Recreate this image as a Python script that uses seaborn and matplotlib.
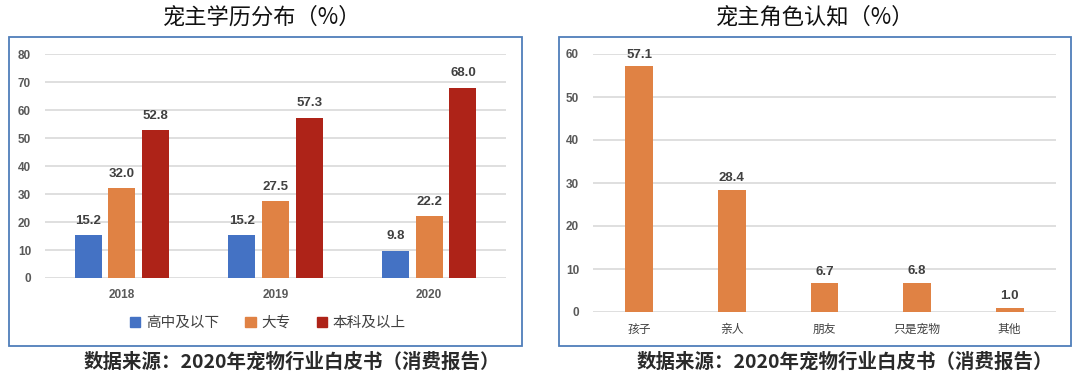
import matplotlib
matplotlib.use('Agg')
import matplotlib.pyplot as plt
from matplotlib.patches import Rectangle
import pandas as pd
import seaborn as sns

# data
years = ['2018', '2019', '2020']
edu_levels = ['高中及以下', '大专', '本科及以上']
high_school = [15.2, 15.2, 9.8]
college = [32.0, 27.5, 22.2]
bachelor = [52.8, 57.3, 68.0]

roles = ['孩子', '亲人', '朋友', '只是宠物', '其他']
role_share = [57.1, 28.4, 6.7, 6.8, 1.0]

source = '数据来源：2020年宠物行业白皮书（消费报告）'

sns.set_theme(style='white')
plt.rcParams['font.family'] = ['Noto Sans CJK SC', 'DejaVu Sans']

W, H = 1080, 382
fig = plt.figure(figsize=(W / 100, H / 100), dpi=100)


def box(x0, y0, x1, y1):
    # pixel coords (top-left origin) -> figure fraction rect
    return [x0 / W, 1 - y1 / H, (x1 - x0) / W, (y1 - y0) / H]


blue, orange, red = '#4472C4', '#E08244', '#AE2318'
grid_c = '#D9D9D9'
txt_c = '#404040'
num_font = {'family': 'Liberation Sans', 'weight': 'bold'}

# outer frames
for x0, y0, x1, y1 in [(9, 37, 522, 346), (559, 37, 1071, 346)]:
    r = box(x0, y0, x1, y1)
    fig.patches.append(Rectangle((r[0], r[1]), r[2], r[3], transform=fig.transFigure,
                                 fill=False, edgecolor='#4F7EBA', linewidth=1.3))

edu = pd.DataFrame({
    'year': years * 3,
    'level': [edu_levels[0]] * 3 + [edu_levels[1]] * 3 + [edu_levels[2]] * 3,
    'value': high_school + college + bachelor,
})

ax1 = fig.add_axes(box(45, 54, 506, 278))
sns.barplot(data=edu, x='year', y='value', hue='level', hue_order=edu_levels,
            palette=[blue, orange, red], width=0.66, gap=0.2, saturation=1,
            linewidth=0, ax=ax1, legend=False)
ax1.set_ylim(0, 80)
ax1.set_xlim(-0.5, 2.5)
ax1.set_yticks(range(0, 81, 10))
for c in ax1.containers:
    ax1.bar_label(c, fmt='%.1f', padding=6, color=txt_c, fontsize=9.5, **num_font)

ax2 = fig.add_axes(box(593, 54, 1056, 312))
sns.barplot(x=roles, y=role_share, color=orange, width=0.3, saturation=1,
            linewidth=0, ax=ax2)
ax2.set_ylim(0, 60)
ax2.set_xlim(-0.5, 4.5)
ax2.set_yticks(range(0, 61, 10))
for c in ax2.containers:
    ax2.bar_label(c, fmt='%.1f', padding=4, color=txt_c, fontsize=9.5, **num_font)

for ax in (ax1, ax2):
    sns.despine(ax=ax, left=True, bottom=True)
    ax.set_axisbelow(True)
    ax.yaxis.grid(True, color=grid_c, linewidth=1.2)
    ax.set_xlabel('')
    ax.set_ylabel('')
    ax.tick_params(axis='both', length=0)
    ax.tick_params(axis='y', pad=10)
    for t in ax.get_yticklabels():
        t.set_fontfamily('Liberation Sans')
        t.set_fontweight('bold')
        t.set_fontsize(8.5)
        t.set_color('#595959')

ax1.tick_params(axis='x', pad=8)
for t in ax1.get_xticklabels():
    t.set_fontfamily('Liberation Sans')
    t.set_fontweight('bold')
    t.set_fontsize(8.5)
    t.set_color('#595959')

ax2.tick_params(axis='x', pad=8)
for t in ax2.get_xticklabels():
    t.set_fontsize(8.5)
    t.set_color(txt_c)

handles = [Rectangle((0, 0), 1, 1, color=c) for c in (blue, orange, red)]
fig.legend(handles, edu_levels, loc='center', bbox_to_anchor=(268 / W, 1 - 323 / H),
           ncol=3, frameon=False, fontsize=10.5, handlelength=0.7, handleheight=0.7,
           handletextpad=0.4, columnspacing=1.8, labelcolor=txt_c)

fig.text(262 / W, 1 - 17 / H, '宠主学历分布（%）', ha='center', va='center',
         fontsize=16, color='#111111')
fig.text(815 / W, 1 - 17 / H, '宠主角色认知（%）', ha='center', va='center',
         fontsize=16, color='#111111')
fig.text(292 / W, 1 - 362 / H, source, ha='center', va='center', fontsize=14,
         fontweight='bold', color='#2a2a2a')
fig.text(845 / W, 1 - 362 / H, source, ha='center', va='center', fontsize=14,
         fontweight='bold', color='#2a2a2a')

fig.savefig('out.png', dpi=100)
